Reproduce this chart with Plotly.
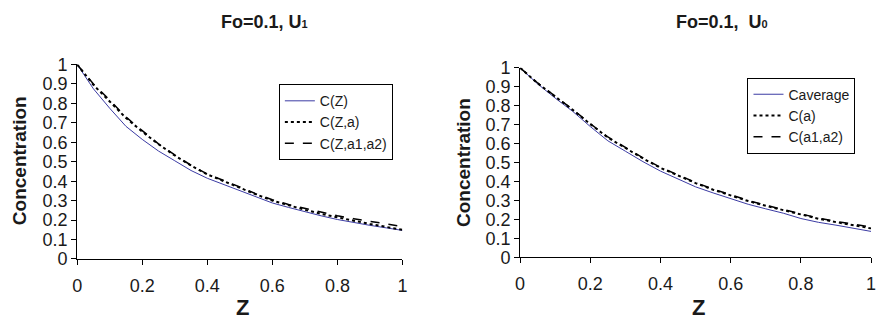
import plotly.graph_objects as go

# ---------------- data ----------------
z = [0.0, 0.05, 0.1, 0.15, 0.2, 0.25, 0.3, 0.35, 0.4, 0.45, 0.5,
     0.55, 0.6, 0.65, 0.7, 0.75, 0.8, 0.85, 0.9, 0.95, 1.0]

# Left panel: Fo=0.1, U1
c_z = [1.0, 0.875, 0.775, 0.682, 0.615, 0.555, 0.505, 0.455, 0.415, 0.383, 0.352,
       0.318, 0.288, 0.265, 0.243, 0.222, 0.203, 0.187, 0.173, 0.160, 0.147]
c_z_a = [1.0, 0.895, 0.81, 0.725, 0.655, 0.59, 0.532, 0.48, 0.435, 0.40, 0.365,
         0.332, 0.300, 0.275, 0.253, 0.232, 0.213, 0.197, 0.180, 0.165, 0.150]
c_z_a1a2 = [1.0, 0.90, 0.817, 0.73, 0.66, 0.592, 0.535, 0.482, 0.437, 0.405, 0.370,
            0.335, 0.305, 0.280, 0.260, 0.240, 0.222, 0.207, 0.193, 0.180, 0.167]

# Right panel: Fo=0.1, U0
c_avg = [1.0, 0.915, 0.84, 0.77, 0.69, 0.615, 0.56, 0.505, 0.455, 0.412, 0.372,
         0.34, 0.31, 0.28, 0.256, 0.233, 0.205, 0.185, 0.170, 0.153, 0.137]
c_a = [1.0, 0.918, 0.848, 0.778, 0.703, 0.632, 0.577, 0.522, 0.472, 0.432, 0.392,
       0.357, 0.325, 0.297, 0.272, 0.250, 0.225, 0.204, 0.186, 0.170, 0.153]
c_a1a2 = [1.0, 0.92, 0.85, 0.78, 0.705, 0.635, 0.58, 0.525, 0.475, 0.435, 0.395,
          0.36, 0.328, 0.30, 0.275, 0.253, 0.228, 0.207, 0.190, 0.176, 0.160]

x_ticks = [0, 0.2, 0.4, 0.6, 0.8, 1]
x_tick_text = ["0", "0.2", "0.4", "0.6", "0.8", "1"]
y_ticks = [0, 0.1, 0.2, 0.3, 0.4, 0.5, 0.6, 0.7, 0.8, 0.9, 1]
y_tick_text = ["0", "0.1", "0.2", "0.3", "0.4", "0.5", "0.6", "0.7", "0.8", "0.9", "1"]

left_names = ["C(Z)", "C(Z,a)", "C(Z,a1,a2)"]
right_names = ["Caverage", "C(a)", "C(a1,a2)"]
left_title = "Fo=0.1, U<span style='font-size:11px'>1</span>"
right_title = "Fo=0.1,&nbsp; U<span style='font-size:11px'>0</span>"
x_label = "Z"
y_label = "Concentration"

# ---------------- figure ----------------
W, H = 883, 331
FONT = "Liberation Sans, Arial, sans-serif"
TXT = "#1a1a1a"
BLUE = "#3b3ba3"

def px(x):
    return x / W

def py(y):
    return 1 - y / H

styles = [
    dict(color=BLUE, width=1, dash="solid"),
    dict(color="black", width=2, dash="dot"),
    dict(color="black", width=1.5, dash="dash"),
]

fig = go.Figure()
for i, (name, ys) in enumerate(zip(left_names, [c_z, c_z_a, c_z_a1a2])):
    fig.add_trace(go.Scatter(x=z, y=ys, mode="lines", name=name, line=styles[i],
                             xaxis="x", yaxis="y", legend="legend",
                             legendgroup="L%d" % i))
for i, (name, ys) in enumerate(zip(right_names, [c_avg, c_a, c_a1a2])):
    fig.add_trace(go.Scatter(x=z, y=ys, mode="lines", name=name, line=styles[i],
                             xaxis="x2", yaxis="y2", legend="legend2",
                             legendgroup="R%d" % i))

axis_common = dict(
    showgrid=False, zeroline=False, showline=True, linecolor="black", linewidth=1,
    ticks="outside", ticklen=5, tickcolor="black", tickwidth=1,
    tickfont=dict(family=FONT, size=18, color=TXT), fixedrange=True,
)

# plot areas (pixel positions)
L = dict(x0=73, x1=402, y0=58, y1=265)
R = dict(x0=521, x1=876, y0=61.5, y1=263.3)

leg_common = dict(xanchor="left", yanchor="top",
                  bgcolor="white", bordercolor="black", borderwidth=1,
                  font=dict(family=FONT, size=14, color=TXT),
                  traceorder="grouped", tracegroupgap=0, itemwidth=30)

fig.update_layout(
    width=W, height=H,
    margin=dict(l=0, r=0, t=0, b=0),
    paper_bgcolor="white", plot_bgcolor="white",
    font=dict(family=FONT, color=TXT),
    showlegend=True,
    xaxis=dict(domain=[px(L["x0"]), px(L["x1"])], range=[0, 1], anchor="y",
               tickvals=x_ticks, ticktext=x_tick_text, ticklabelstandoff=5, **axis_common),
    yaxis=dict(domain=[py(L["y1"]), py(L["y0"])], range=[0, 1], anchor="x",
               tickvals=y_ticks, ticktext=y_tick_text, **axis_common),
    xaxis2=dict(domain=[px(R["x0"]), px(R["x1"])], range=[0, 1], anchor="y2",
                tickvals=x_ticks, ticktext=x_tick_text, ticklabelstandoff=5, **axis_common),
    yaxis2=dict(domain=[py(R["y1"]), py(R["y0"])], range=[0, 1], anchor="x2",
                tickvals=y_ticks, ticktext=y_tick_text, **axis_common),
    legend=dict(x=px(277), y=py(79), **leg_common),
    legend2=dict(x=px(751), y=py(72), **leg_common),
)

ann = []
ann.append(dict(text="<b>%s</b>" % left_title, x=px(262), y=py(13), xref="paper", yref="paper",
                showarrow=False, xanchor="center", yanchor="middle",
                font=dict(family=FONT, size=18, color=TXT)))
ann.append(dict(text="<b>%s</b>" % right_title, x=px(725), y=py(13), xref="paper", yref="paper",
                showarrow=False, xanchor="center", yanchor="middle",
                font=dict(family=FONT, size=18, color=TXT)))
for xc in (240, 701):
    ann.append(dict(text="<b>%s</b>" % x_label, x=px(xc), y=py(317), xref="paper", yref="paper",
                    showarrow=False, xanchor="center", yanchor="middle",
                    font=dict(family=FONT, size=22, color=TXT)))
for xc, yc in ((15, 160), (463, 162)):
    ann.append(dict(text="<b>%s</b>" % y_label, x=px(xc), y=py(yc), xref="paper", yref="paper",
                    showarrow=False, xanchor="center", yanchor="middle", textangle=-90,
                    font=dict(family=FONT, size=19, color=TXT)))
fig.update_layout(annotations=ann)

fig.write_html("out.html")
